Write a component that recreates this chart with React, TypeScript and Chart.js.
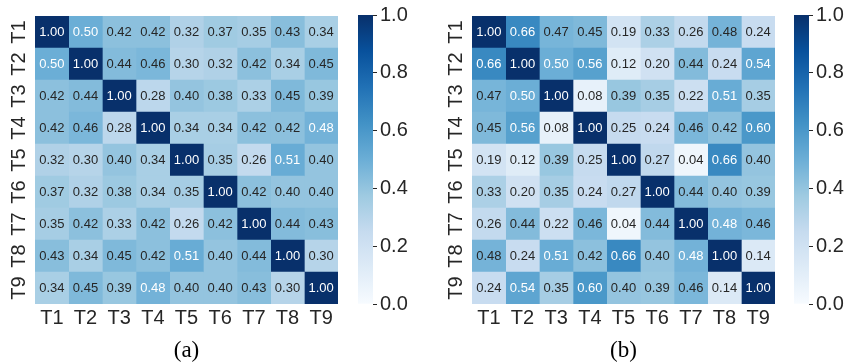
import React, { useEffect, useRef } from "react";
import { Chart, registerables } from "chart.js";

Chart.register(...registerables);

// Task labels shared by both correlation matrices
const TASKS = ["T1", "T2", "T3", "T4", "T5", "T6", "T7", "T8", "T9"];

// Correlation matrix for panel (a)
const CORR_A = [
  [1.0, 0.5, 0.42, 0.42, 0.32, 0.37, 0.35, 0.43, 0.34],
  [0.5, 1.0, 0.44, 0.46, 0.3, 0.32, 0.42, 0.34, 0.45],
  [0.42, 0.44, 1.0, 0.28, 0.4, 0.38, 0.33, 0.45, 0.39],
  [0.42, 0.46, 0.28, 1.0, 0.34, 0.34, 0.42, 0.42, 0.48],
  [0.32, 0.3, 0.4, 0.34, 1.0, 0.35, 0.26, 0.51, 0.4],
  [0.37, 0.32, 0.38, 0.34, 0.35, 1.0, 0.42, 0.4, 0.4],
  [0.35, 0.42, 0.33, 0.42, 0.26, 0.42, 1.0, 0.44, 0.43],
  [0.43, 0.34, 0.45, 0.42, 0.51, 0.4, 0.44, 1.0, 0.3],
  [0.34, 0.45, 0.39, 0.48, 0.4, 0.4, 0.43, 0.3, 1.0],
];

// Correlation matrix for panel (b)
const CORR_B = [
  [1.0, 0.66, 0.47, 0.45, 0.19, 0.33, 0.26, 0.476, 0.24],
  [0.66, 1.0, 0.5, 0.56, 0.12, 0.2, 0.44, 0.24, 0.54],
  [0.47, 0.5, 1.0, 0.08, 0.39, 0.35, 0.22, 0.51, 0.35],
  [0.45, 0.56, 0.08, 1.0, 0.25, 0.24, 0.46, 0.42, 0.6],
  [0.19, 0.12, 0.39, 0.25, 1.0, 0.27, 0.04, 0.66, 0.4],
  [0.33, 0.2, 0.35, 0.24, 0.27, 1.0, 0.44, 0.4, 0.39],
  [0.26, 0.44, 0.22, 0.46, 0.04, 0.44, 1.0, 0.48, 0.46],
  [0.476, 0.24, 0.51, 0.42, 0.66, 0.4, 0.48, 1.0, 0.14],
  [0.24, 0.54, 0.35, 0.6, 0.4, 0.39, 0.46, 0.14, 1.0],
];

const CAPTION_A = "(a)";
const CAPTION_B = "(b)";

// Colour bar range and tick step
const CBAR_MIN = 0;
const CBAR_MAX = 1;
const CBAR_STEP = 0.2;

// "Blues" sequential palette, evenly spaced from 0 to 1
const BLUES = [
  "#f7fbff", "#deebf7", "#c6dbef", "#9ecae1", "#6baed6",
  "#4292c6", "#2171b5", "#08519c", "#08306b",
];

const TEXT_DARK = "#262626";
const SANS = '"Liberation Sans", Arial, Helvetica, sans-serif';
const SERIF = '"Liberation Serif", "Times New Roman", serif';

function hexToRgb(h: string): number[] {
  const n = parseInt(h.slice(1), 16);
  return [(n >> 16) & 255, (n >> 8) & 255, n & 255];
}
const BLUES_RGB = BLUES.map(hexToRgb);

function bluesRgb(v: number): number[] {
  const t = Math.min(1, Math.max(0, (v - CBAR_MIN) / (CBAR_MAX - CBAR_MIN)));
  const pos = t * (BLUES_RGB.length - 1);
  const i = Math.min(BLUES_RGB.length - 2, Math.floor(pos));
  const f = pos - i;
  const a = BLUES_RGB[i];
  const b = BLUES_RGB[i + 1];
  return [0, 1, 2].map((k) => a[k] + (b[k] - a[k]) * f);
}

function bluesCss(v: number): string {
  const [r, g, b] = bluesRgb(v);
  return `rgb(${Math.round(r)}, ${Math.round(g)}, ${Math.round(b)})`;
}

// White text on dark cells, dark grey on light ones (relative luminance)
function annotColor(v: number): string {
  const lin = bluesRgb(v).map((c) => {
    const s = c / 255;
    return s <= 0.03928 ? s / 12.92 : Math.pow((s + 0.055) / 1.055, 2.4);
  });
  const lum = 0.2126 * lin[0] + 0.7152 * lin[1] + 0.0722 * lin[2];
  return lum > 0.408 ? TEXT_DARK : "#ffffff";
}

// Writes each cell's value in the middle of its bar segment
function cellLabelPlugin(matrix: number[][]) {
  return {
    id: "cellLabels",
    afterDatasetsDraw(chart: any) {
      const ctx = chart.ctx;
      ctx.save();
      ctx.font = `13px ${SANS}`;
      ctx.textAlign = "center";
      ctx.textBaseline = "middle";
      chart.data.datasets.forEach((_ds: any, j: number) => {
        const meta = chart.getDatasetMeta(j);
        meta.data.forEach((el: any, i: number) => {
          const p = el.getProps(["x", "y", "base"], true);
          const v = matrix[i][j];
          ctx.fillStyle = annotColor(v);
          ctx.fillText(v.toFixed(2), (p.x + p.base) / 2, p.y);
        });
      });
      ctx.restore();
    },
  };
}

function heatmapConfig(matrix: number[][], caption: string, yAxisWidth: number, padRight: number): any {
  // one stacked dataset per column; each row is a category on the y axis
  const datasets = TASKS.map((col, j) => ({
    label: col,
    data: TASKS.map(() => 1),
    backgroundColor: matrix.map((row) => bluesCss(row[j])),
    borderWidth: 0,
    barPercentage: 1,
    categoryPercentage: 1,
    xAxisID: "x",
    yAxisID: "y",
  }));
  const tickFont = { family: SANS, size: 20, lineHeight: 1.2 };
  return {
    type: "bar",
    data: { labels: TASKS, datasets },
    options: {
      indexAxis: "y",
      animation: false,
      responsive: false,
      devicePixelRatio: 1,
      events: [],
      layout: { padding: { top: 12, right: padRight, left: 0, bottom: 0 } },
      plugins: {
        legend: { display: false },
        tooltip: { enabled: false },
        title: {
          display: true,
          text: caption,
          position: "bottom",
          fullSize: false,
          padding: 0,
          color: "#000000",
          font: { family: SERIF, size: 23, lineHeight: 1, weight: "normal" },
        },
      },
      scales: {
        x: { type: "linear", stacked: true, min: 0, max: TASKS.length, display: false },
        xTasks: {
          type: "category",
          labels: TASKS,
          offset: true,
          position: "bottom",
          grid: { display: false, drawTicks: false },
          border: { display: false },
          ticks: { color: TEXT_DARK, font: tickFont, padding: 2, autoSkip: false, maxRotation: 0 },
          afterFit: (s: any) => {
            s.height = 35;
          },
        },
        y: {
          type: "category",
          stacked: true,
          offset: true,
          grid: { display: false, drawTicks: false },
          border: { display: false },
          ticks: {
            color: TEXT_DARK,
            font: tickFont,
            minRotation: 90,
            maxRotation: 90,
            crossAlign: "center",
            padding: 4,
            autoSkip: false,
          },
          afterFit: (s: any) => {
            s.width = yAxisWidth;
          },
        },
      },
    },
    plugins: [cellLabelPlugin(matrix)],
  };
}

function colorbarConfig(axisWidth: number, padLeft: number): any {
  return {
    type: "bar",
    data: {
      labels: [""],
      datasets: [
        {
          data: [CBAR_MAX],
          borderWidth: 0,
          barPercentage: 1,
          categoryPercentage: 1,
          backgroundColor: (c: any) => {
            const chart = c.chart;
            const ys = chart.scales && chart.scales.y;
            if (!chart.chartArea || !ys) return BLUES[4];
            const g = chart.ctx.createLinearGradient(
              0, ys.getPixelForValue(CBAR_MIN), 0, ys.getPixelForValue(CBAR_MAX)
            );
            BLUES.forEach((col, i) => g.addColorStop(i / (BLUES.length - 1), col));
            return g;
          },
        },
      ],
    },
    options: {
      animation: false,
      responsive: false,
      devicePixelRatio: 1,
      events: [],
      layout: { padding: { top: 12, bottom: 58, left: padLeft, right: 0 } },
      plugins: { legend: { display: false }, tooltip: { enabled: false }, title: { display: false } },
      scales: {
        x: { display: false, offset: true },
        y: {
          position: "right",
          min: CBAR_MIN,
          max: CBAR_MAX,
          ticks: {
            stepSize: CBAR_STEP,
            callback: (v: any) => Number(v).toFixed(1),
            padding: 3,
            color: TEXT_DARK,
            font: { family: SANS, size: 20, lineHeight: 1.2 },
          },
          grid: {
            display: true,
            drawOnChartArea: false,
            drawTicks: true,
            tickLength: 4,
            tickColor: TEXT_DARK,
            tickWidth: 1,
          },
          border: { display: false },
          afterFit: (s: any) => {
            s.width = axisWidth;
          },
        },
      },
    },
  };
}

function ChartCanvas({ left, width, makeConfig }: { left: number; width: number; makeConfig: () => any }) {
  const ref = useRef<HTMLCanvasElement | null>(null);
  useEffect(() => {
    if (!ref.current) return;
    const chart = new Chart(ref.current, makeConfig());
    return () => chart.destroy();
  }, []);
  return (
    <canvas
      ref={ref}
      width={width}
      height={362}
      style={{ position: "absolute", left, top: 0, width, height: 362, display: "block" }}
    />
  );
}

export default function App() {
  return (
    <div
      style={{
        position: "fixed",
        left: 0,
        top: 0,
        width: 847,
        height: 362,
        background: "#ffffff",
        overflow: "hidden",
      }}
    >
      <ChartCanvas left={0} width={350} makeConfig={() => heatmapConfig(CORR_A, CAPTION_A, 35, 12)} />
      <ChartCanvas left={350} width={80} makeConfig={() => colorbarConfig(57, 8)} />
      <ChartCanvas left={430} width={355} makeConfig={() => heatmapConfig(CORR_B, CAPTION_B, 42, 10)} />
      <ChartCanvas left={785} width={62} makeConfig={() => colorbarConfig(38, 9)} />
    </div>
  );
}
